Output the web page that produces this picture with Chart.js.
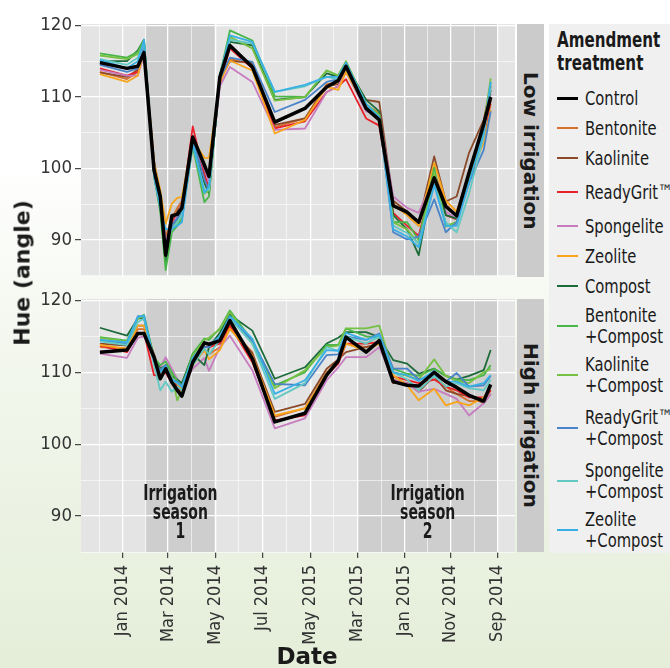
<!DOCTYPE html>
<html>
<head>
<meta charset="utf-8">
<script src="https://cdn.jsdelivr.net/npm/chart.js@4.4.1/dist/chart.umd.min.js"></script>
<style>
  html, body { margin: 0; padding: 0; }
  body {
    width: 670px; height: 668px; position: relative; overflow: hidden;
    background: linear-gradient(to bottom, #ffffff 0%, #ffffff 24%, #f3f7ee 52%, #e5eed9 100%);
    font-family: "DejaVu Sans Condensed", "DejaVu Sans", sans-serif;
    color: #1a1a1a;
  }
  canvas { position: absolute; left: 0; }
  #lowChart { top: 0; }
  #highChart { top: 280px; }
  .strip {
    position: absolute; left: 517px; width: 27px; height: 253px; background: #cbcbcb;
    display: flex; align-items: center; justify-content: center;
  }
  .strip span { writing-mode: vertical-rl; font: bold 20px "DejaVu Sans", sans-serif; white-space: nowrap; }
  #legend {
    position: absolute; left: 549px; top: 24px; width: 121px; height: 529px; overflow: hidden;
    background: #f0f0f0; box-sizing: border-box; padding: 5px 0 0 8px;
  }
  #legend .title {
    font-weight: bold; font-size: 21px; line-height: 23px; margin-bottom: 8px;
    transform: scaleX(0.8); transform-origin: left center; white-space: nowrap;
  }
  #legend .item { display: flex; align-items: center; min-height: 30px; padding: 3.5px 0; box-sizing: border-box; }
  #legend .item.tall { min-height: 38px; padding: 7.5px 0; }
  #legend .key { width: 21px; flex: none; margin-right: 7px; }
  #legend .lab {
    font-size: 20px; line-height: 21px; white-space: pre; 
    transform: scaleX(0.82); transform-origin: left center;
  }
  .axis-title { position: absolute; font: bold 22px "DejaVu Sans", sans-serif; white-space: nowrap; }
  #yTitle { left: 22px; top: 273px; transform: translate(-50%, -50%) rotate(-90deg); }
  #xTitle { left: 307px; top: 656px; transform: translate(-50%, -50%); font-size: 23px; }
</style>
</head>
<body>
<canvas id="lowChart" width="670" height="290"></canvas>
<canvas id="highChart" width="670" height="388"></canvas>
<div class="strip" style="top:24px"><span>Low irrigation</span></div>
<div class="strip" style="top:299px"><span>High irrigation</span></div>
<div id="legend"><div class="title">Amendment<br>treatment</div></div>
<div class="axis-title" id="yTitle">Hue (angle)</div>
<div class="axis-title" id="xTitle">Date</div>
<script>
// Sampling dates (shared by both irrigation levels)
const sampleDates = ['2013-12-03','2014-01-07','2014-01-21','2014-01-29','2014-02-11','2014-02-19',
  '2014-02-26','2014-03-06','2014-03-13','2014-03-19','2014-04-02','2014-04-17','2014-04-23',
  '2014-05-07','2014-05-20','2014-06-18','2014-07-17','2014-08-25','2014-09-22','2014-10-07',
  '2014-10-17','2014-11-12','2014-11-29','2014-12-17','2015-01-04','2015-01-19','2015-02-08',
  '2015-02-23','2015-03-09','2015-03-25','2015-04-13','2015-04-22'];

// Irrigation seasons (start, end)
const irrigationSeasons = [['2014-02-01', '2014-04-30'], ['2014-11-01', '2015-05-01']];

// Date axis breaks and the labels printed under them
const tickDates = ['2014-01-01','2014-03-01','2014-05-01','2014-07-01','2014-09-01',
  '2014-11-01','2015-01-01','2015-03-01','2015-05-01'];
const tickLabels = ['Jan 2014','Mar 2014','May 2014','Jul 2014','May 2015',
  'Mar 2015','Jan 2015','Nov 2014','Sep 2014'];

const treatments = ['Control','Bentonite','Kaolinite','ReadyGrit\u2122','Spongelite','Zeolite','Compost',
  'Bentonite\n+Compost','Kaolinite\n+Compost','ReadyGrit\u2122\n+Compost','Spongelite\n+Compost','Zeolite\n+Compost'];
const treatmentColors = ['#000000','#d5702f','#8b4a2a','#e8202a','#c77cc0','#f8a51c','#1d6b38',
  '#48b648','#76c043','#4a84c8','#62c9c3','#39b0e5'];

// Hue angle, low irrigation
const ctrlLow = [114.8,114.0,114.3,116.2,99.8,96.1,87.9,93.4,93.6,94.5,104.4,100.5,98.9,112.8,117.2,114.2,106.5,108.4,111.4,112.3,114.3,108.4,106.8,94.8,93.9,92.5,98.7,94.7,93.4,99.4,106.2,110.0];
const bentLow = [113.5,112.5,113.5,116.5,100.5,95.5,90.5,93.0,94.5,95.5,104.0,100.0,98.5,112.0,115.3,114.6,105.8,107.0,111.8,112.0,113.8,108.8,107.8,95.0,93.5,92.0,99.5,95.0,93.5,98.5,104.5,109.0];
const kaolLow = [113.4,112.8,113.8,116.8,101.0,96.5,89.5,92.5,94.0,95.0,104.5,99.5,97.0,112.5,115.0,114.8,106.1,107.0,111.5,111.8,113.5,109.6,109.3,95.5,94.0,92.5,101.7,95.4,96.1,102.2,106.8,111.5];
const rgLow   = [114.0,113.0,113.5,116.0,99.5,95.0,89.0,92.5,93.5,94.5,105.9,99.0,97.5,112.0,116.8,114.0,105.6,106.6,110.7,111.5,112.5,107.0,106.0,93.8,92.0,90.6,99.0,93.5,92.9,98.0,104.5,109.5];
const spLow   = [113.8,113.0,113.0,115.8,100.0,96.0,90.0,92.0,93.5,95.0,104.0,100.0,98.0,111.5,114.2,112.1,105.4,105.6,110.7,111.5,113.5,108.0,107.5,96.1,94.5,93.8,99.0,94.0,93.0,98.5,105.0,110.5];
const zeoLow  = [113.2,112.1,113.0,116.5,100.8,97.0,92.3,95.1,95.9,96.0,104.0,101.5,101.5,112.0,115.1,113.7,104.9,106.8,111.4,111.0,113.5,108.5,107.0,95.0,93.5,92.0,100.8,95.5,94.0,99.0,103.6,108.2];
const compLow = [115.0,115.0,116.5,118.0,99.0,94.5,87.0,92.0,93.0,94.0,103.5,98.0,96.5,113.0,117.7,117.2,109.6,110.0,113.3,112.8,114.5,109.6,108.0,93.5,91.5,87.9,99.5,93.5,93.0,99.0,105.5,111.0];
const bcLow   = [116.1,115.5,116.3,118.0,99.0,94.0,85.8,91.1,92.0,93.0,103.1,95.3,96.1,113.0,119.3,117.9,110.1,110.0,113.7,113.0,114.9,109.0,107.5,92.5,92.5,90.0,100.1,91.9,92.5,98.5,105.5,112.0];
const kcLow   = [115.8,115.3,116.0,117.5,99.5,95.0,88.5,91.5,92.5,93.5,103.5,96.5,97.0,113.0,118.4,116.8,109.5,110.0,113.7,113.0,115.0,109.0,107.5,92.5,91.5,89.5,99.5,92.0,92.5,99.0,106.0,112.6];
const rgcLow  = [114.5,113.5,114.0,117.0,99.5,95.5,89.0,92.0,93.0,94.0,104.0,98.5,97.0,112.5,115.5,114.9,107.9,109.6,112.1,112.5,114.0,108.5,107.0,91.1,90.1,90.5,95.7,91.1,92.5,98.0,102.6,108.0];
const scLow   = [115.3,114.5,115.5,117.5,99.5,95.0,89.0,91.5,92.5,93.5,103.5,97.0,97.0,112.5,118.0,117.5,110.7,111.5,112.8,112.5,114.5,109.0,107.0,92.0,91.0,89.5,98.0,92.5,91.1,96.5,104.5,111.5];
const zcLow   = [115.2,114.0,115.0,118.0,99.0,94.5,91.5,91.6,92.0,92.5,103.5,96.6,97.5,113.0,118.6,117.7,110.7,111.7,112.8,112.8,114.8,109.0,107.2,91.5,90.5,89.0,97.7,92.0,92.0,98.0,105.0,112.1];

// Hue angle, high irrigation
const ctrlHigh = [112.8,113.1,115.4,115.4,112.1,109.1,110.5,108.6,107.5,106.7,111.4,114.1,113.9,114.4,117.2,111.9,103.1,104.3,109.6,111.6,114.9,112.8,114.4,108.7,108.2,108.1,110.0,108.7,107.9,106.8,106.0,108.3];
const bentHigh = [113.5,113.3,116.0,116.0,111.5,109.5,110.0,108.5,108.0,107.5,111.5,113.0,112.5,113.5,116.0,112.8,103.8,105.0,110.0,111.5,114.0,113.5,114.0,109.0,108.5,107.5,109.5,108.0,107.0,106.0,106.0,107.5];
const kaolHigh = [114.0,113.7,116.5,116.5,112.5,110.0,111.0,109.0,108.0,107.5,111.5,113.5,113.5,114.5,116.5,112.6,104.5,105.6,110.5,111.8,112.8,113.5,114.0,108.5,108.5,107.3,109.5,107.5,107.0,106.7,105.7,107.0];
const rgHigh   = [113.7,112.8,115.5,115.5,109.6,109.5,110.0,108.5,108.0,107.0,111.0,113.5,113.5,114.0,116.5,111.4,103.3,104.0,109.6,111.2,114.0,114.0,114.2,109.4,108.9,108.5,109.0,108.0,107.5,106.5,106.5,107.5];
const spHigh   = [112.6,112.0,114.8,115.0,112.0,110.7,112.1,110.5,109.0,108.0,110.5,112.0,110.2,113.5,115.1,110.3,102.2,103.6,108.9,110.7,112.1,112.1,113.5,108.9,108.5,107.3,107.7,107.0,106.3,104.0,105.7,107.0];
const zeoHigh  = [113.8,113.3,116.5,116.5,112.0,110.0,110.5,109.0,108.5,107.5,111.0,113.1,111.8,113.1,116.1,112.3,104.0,105.0,109.8,111.5,114.0,113.0,114.0,109.6,108.2,106.1,107.7,105.4,105.9,105.4,106.5,108.0];
const compHigh = [116.2,115.1,117.5,117.5,112.0,110.5,111.0,109.5,109.0,108.5,112.5,111.0,113.5,115.5,118.0,115.8,109.1,110.7,114.0,114.8,115.6,115.6,114.9,111.7,111.2,109.8,110.5,109.5,109.0,109.5,110.3,113.1];
const bcHigh   = [114.9,114.4,117.5,118.0,112.0,111.0,111.5,110.0,108.8,108.0,112.6,114.7,114.5,116.1,118.6,114.4,108.2,110.0,113.8,113.8,116.1,115.0,114.8,110.5,109.8,109.5,110.5,109.5,109.0,108.9,109.6,111.0];
const kcHigh   = [114.8,114.3,117.5,117.8,111.5,110.3,111.0,109.5,106.1,107.5,112.3,114.5,114.8,116.0,118.4,114.0,107.8,110.3,113.5,113.7,116.1,116.1,116.5,110.0,109.5,109.0,111.8,109.5,108.8,108.5,110.0,110.5];
const rgcHigh  = [114.5,114.0,117.8,117.8,111.5,110.3,111.0,109.0,108.7,108.0,111.5,113.5,113.5,115.0,117.5,114.4,108.4,108.2,112.4,112.5,115.0,114.5,115.4,110.5,110.5,109.0,109.5,108.7,109.9,108.0,108.2,109.5];
const scHigh   = [114.3,113.8,117.0,117.5,111.0,107.5,108.7,107.3,108.0,107.5,111.0,113.3,112.5,114.5,117.5,114.0,106.3,108.5,113.5,113.0,115.0,114.0,115.0,110.0,109.0,107.5,109.5,108.0,108.5,107.8,107.5,109.0];
const zcHigh   = [114.5,114.2,117.7,117.9,111.5,110.0,110.8,109.0,108.5,108.0,112.0,114.0,113.8,115.0,117.8,114.7,107.0,108.9,113.1,113.0,115.5,114.5,115.2,110.0,109.6,108.8,110.2,108.7,108.7,108.0,108.5,109.6];

const lowSeries  = [ctrlLow, bentLow, kaolLow, rgLow, spLow, zeoLow, compLow, bcLow, kcLow, rgcLow, scLow, zcLow];
const highSeries = [ctrlHigh, bentHigh, kaolHigh, rgHigh, spHigh, zeoHigh, compHigh, bcHigh, kcHigh, rgcHigh, scHigh, zcHigh];

// Dates become day numbers counted from 1 Jan 2014
const DAY = 86400000, ORIGIN = Date.parse('2014-01-01');
const toDay = s => (Date.parse(s) - ORIGIN) / DAY;
const sampleDays = sampleDates.map(toDay);
const tickDays = tickDates.map(toDay);
const seasonDays = irrigationSeasons.map(p => p.map(toDay));

// Minor grid lines sit halfway between the date breaks
const minorDays = [tickDays[0] - (tickDays[1] - tickDays[0]) / 2];
for (let i = 0; i < tickDays.length - 1; i++) minorDays.push((tickDays[i] + tickDays[i + 1]) / 2);
const xGrid = tickDays.concat(minorDays).sort((a, b) => a - b);

const X_MIN = -53.4, X_MAX = 507.4, Y_MIN = 85, Y_MAX = 120.2;
const CONDENSED = '"DejaVu Sans Condensed", "DejaVu Sans", sans-serif';
const isMajorDay = v => tickDays.includes(v);
const isMajorHue = v => v % 10 === 0;

const panelBackground = {
  id: 'panelBackground',
  beforeDraw(chart) {
    const { ctx, chartArea: a, scales: { x } } = chart;
    ctx.save();
    ctx.fillStyle = '#e4e4e4';
    ctx.fillRect(a.left, a.top, a.width, a.height);
    ctx.fillStyle = '#cecece';
    seasonDays.forEach(([s, e]) => {
      const x0 = Math.max(x.getPixelForValue(s), a.left), x1 = Math.min(x.getPixelForValue(e), a.right);
      ctx.fillRect(x0, a.top, x1 - x0, a.height);
    });
    ctx.restore();
  }
};

// "Irrigation season N" captions, centred on each season band
const seasonLabels = {
  id: 'seasonLabels',
  afterDraw(chart) {
    const { ctx, chartArea: a, scales: { x } } = chart;
    ctx.save();
    ctx.fillStyle = '#1a1a1a';
    ctx.font = 'bold 21px ' + CONDENSED;
    ctx.textAlign = 'center';
    ctx.textBaseline = 'alphabetic';
    seasonDays.forEach(([s, e], i) => {
      const cx = (x.getPixelForValue(s) + x.getPixelForValue(e)) / 2;
      ['Irrigation', 'season', String(i + 1)].forEach((t, k) => {
        ctx.save();
        ctx.translate(cx, a.bottom - 52 + k * 19);
        ctx.scale(0.74, 1);
        ctx.fillText(t, 0, 0);
        ctx.restore();
      });
    });
    ctx.restore();
  }
};

function makePanel(id, series, o) {
  return new Chart(document.getElementById(id), {
    type: 'line',
    data: {
      datasets: treatments.map((name, i) => ({
        label: name.replace('\n', ''),
        data: sampleDays.map((d, j) => ({ x: d, y: series[i][j] })),
        borderColor: treatmentColors[i],
        borderWidth: i === 0 ? 3.5 : 1.8,
        borderJoinStyle: 'round',
        pointRadius: 0,
        tension: 0,
        fill: false,
        order: i === 0 ? 0 : treatments.length - i
      }))
    },
    options: {
      responsive: false,
      animation: false,
      events: [],
      layout: { padding: { top: o.top, right: 155, left: 0, bottom: 0 } },
      plugins: { legend: { display: false }, tooltip: { enabled: false } },
      scales: {
        x: {
          type: 'linear', min: X_MIN, max: X_MAX,
          border: { display: false },
          afterBuildTicks: s => { s.ticks = xGrid.map(v => ({ value: v })); },
          afterFit: s => { s.height = o.xHeight; },
          grid: {
            color: '#ffffff',
            lineWidth: c => (c.tick && isMajorDay(c.tick.value)) ? 1.3 : 0.6,
            drawTicks: o.showX,
            tickLength: 6,
            tickWidth: 1.1,
            tickColor: c => (c.tick && isMajorDay(c.tick.value)) ? '#333333' : 'rgba(0,0,0,0)'
          },
          ticks: {
            display: o.showX,
            autoSkip: false,
            minRotation: 90, maxRotation: 90,
            padding: 7,
            color: '#333333',
            font: { family: CONDENSED, size: 18 },
            callback: v => { const i = tickDays.indexOf(v); return i >= 0 ? tickLabels[i] : ''; }
          }
        },
        y: {
          type: 'linear', min: Y_MIN, max: Y_MAX,
          border: { display: false },
          afterBuildTicks: s => { s.ticks = [85, 90, 95, 100, 105, 110, 115, 120].map(v => ({ value: v })); },
          afterFit: s => { s.width = 81; },
          grid: {
            color: '#ffffff',
            lineWidth: c => (c.tick && isMajorHue(c.tick.value)) ? 1.3 : 0.6,
            tickLength: 6,
            tickWidth: 1.1,
            tickColor: c => (c.tick && isMajorHue(c.tick.value)) ? '#333333' : 'rgba(0,0,0,0)'
          },
          ticks: {
            padding: 3,
            color: '#333333',
            font: { family: CONDENSED, size: 18.5 },
            callback: v => isMajorHue(v) ? String(v) : ''
          }
        }
      }
    },
    plugins: o.showX ? [panelBackground, seasonLabels] : [panelBackground]
  });
}

makePanel('lowChart', lowSeries, { top: 24, xHeight: 13, showX: false });
makePanel('highChart', highSeries, { top: 19, xHeight: 116, showX: true });

// Legend built from the treatment list
const legend = document.getElementById('legend');
treatments.forEach((name, i) => {
  const item = document.createElement('div');
  item.className = 'item' + (name.includes('\u2122') ? ' tall' : '');
  const key = document.createElement('div');
  key.className = 'key';
  key.style.height = i === 0 ? '3px' : '2px';
  key.style.background = treatmentColors[i];
  const lab = document.createElement('div');
  lab.className = 'lab';
  lab.textContent = name;
  item.appendChild(key);
  item.appendChild(lab);
  legend.appendChild(item);
});
</script>
</body>
</html>
